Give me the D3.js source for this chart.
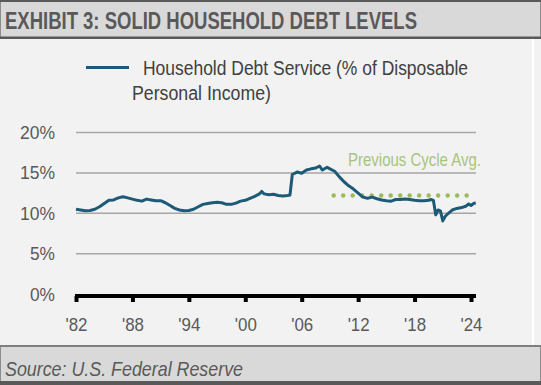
<!DOCTYPE html>
<html>
<head>
<meta charset="utf-8">
<script src="https://cdn.jsdelivr.net/npm/d3@7"></script>
<style>
  body { margin: 0; background: #fff; }
  svg { display: block; }
  text { font-family: "Liberation Sans Narrow", "Arial Narrow", "Liberation Sans", sans-serif; }
</style>
</head>
<body>
<div id="chart"></div>
<script>
// debt service ratio (decimal year, % of income)
const years = [1982, 1982.5, 1983, 1983.5, 1984, 1984.5, 1985, 1985.5, 1986, 1986.5,
  1987, 1987.5, 1988, 1988.5, 1989, 1989.5, 1990, 1990.5, 1991, 1991.5,
  1992, 1992.5, 1993, 1993.5, 1994, 1994.5, 1995, 1995.5, 1996, 1996.5,
  1997, 1997.5, 1998, 1998.5, 1999, 1999.5, 2000, 2000.5, 2001, 2001.5,
  2001.75, 2002, 2002.5, 2003, 2003.5, 2004, 2004.5, 2004.75, 2005, 2005.5,
  2006, 2006.5, 2007, 2007.5, 2007.9, 2008.2, 2008.7, 2009, 2009.5, 2010,
  2010.5, 2011, 2011.5, 2012, 2012.5, 2013, 2013.5, 2014, 2014.5, 2015,
  2015.5, 2016, 2016.5, 2017, 2017.5, 2018, 2018.5, 2019, 2019.5, 2019.75,
  2020, 2020.25, 2020.5, 2020.75, 2021, 2021.25, 2021.5, 2022, 2022.5, 2023,
  2023.5, 2023.75, 2024, 2024.25, 2024.5]
const debtService = [10.5, 10.4, 10.3, 10.35, 10.5, 10.8, 11.2, 11.6, 11.65, 11.9,
  12.05, 11.9, 11.75, 11.6, 11.5, 11.75, 11.65, 11.55, 11.55, 11.3,
  10.95, 10.6, 10.4, 10.3, 10.35, 10.5, 10.8, 11.1, 11.2, 11.3,
  11.35, 11.3, 11.1, 11.1, 11.25, 11.5, 11.6, 11.85, 12.1, 12.4,
  12.7, 12.4, 12.3, 12.35, 12.2, 12.15, 12.2, 12.25, 14.8, 15.1,
  14.95, 15.35, 15.5, 15.6, 15.85, 15.35, 15.7, 15.5, 15.2, 14.5,
  13.9, 13.4, 13.0, 12.5, 12.0, 11.85, 12.0, 11.8, 11.65, 11.55,
  11.5, 11.7, 11.7, 11.75, 11.7, 11.6, 11.55, 11.55, 11.6, 11.7,
  11.6, 9.8, 10.4, 10.3, 9.05, 9.6, 9.9, 10.4, 10.6, 10.7,
  10.9, 11.15, 10.95, 11.2, 11.3]

const cycleAvg = 12.2
const cycleSpan = [2009.4, 2023.8]
const yTicks = [0, 5, 10, 15, 20]
const xTicks = [1982, 1988, 1994, 2000, 2006, 2012, 2018, 2024]

const width = 541, height = 385
const lineColor = "#1d5a78"
const green = "#9bbb59"
const grey = "#595959"

const svg = d3.select("#chart").append("svg")
    .attr("width", width)
    .attr("height", height)

// squeeze a text to a given width (the original uses a condensed face)
function narrow(sel, w) {
  return sel.attr("textLength", w).attr("lengthAdjust", "spacingAndGlyphs")
}

// plot panel
svg.append("rect").attr("x", 0).attr("y", 0).attr("width", width).attr("height", height).attr("fill", "#f2f2f2")
svg.append("rect").attr("x", 532).attr("y", 39).attr("width", 2).attr("height", 307).attr("fill", "#fff")

// title band
svg.append("rect").attr("x", 0.5).attr("y", 1).attr("width", width - 1).attr("height", 37)
    .attr("fill", "#d9d9d9").attr("stroke", "#8c8c8c").attr("stroke-width", 1)
svg.append("rect").attr("x", 0).attr("y", 0).attr("width", width).attr("height", 2).attr("fill", grey)
svg.append("rect").attr("x", 0).attr("y", 36.5).attr("width", width).attr("height", 2.5).attr("fill", grey)
svg.append("text")
    .text("EXHIBIT 3: SOLID HOUSEHOLD DEBT LEVELS")
    .attr("x", 5).attr("y", 28.5)
    .attr("font-size", 24).attr("font-weight", "bold")
    .attr("fill", grey)
    .call(narrow, 412)

// footer band
svg.append("rect").attr("x", 0.5).attr("y", 345.5).attr("width", width - 1).attr("height", 37)
    .attr("fill", "#d9d9d9").attr("stroke", "#8c8c8c").attr("stroke-width", 1)
svg.append("rect").attr("x", 0).attr("y", 345).attr("width", width).attr("height", 2).attr("fill", "#7f7f7f")
svg.append("rect").attr("x", 0).attr("y", 381).attr("width", width).attr("height", 4).attr("fill", grey)
svg.append("text")
    .text("Source: U.S. Federal Reserve")
    .attr("x", 5).attr("y", 375.5)
    .attr("font-size", 21).attr("font-style", "italic")
    .attr("fill", grey)
    .call(narrow, 238)

// scales
const x = d3.scaleLinear().domain([1982, 2024]).range([76, 471])
const y = d3.scaleLinear().domain([0, 20]).range([294, 132.5])

// grid
svg.append("g")
  .selectAll("line")
  .data(yTicks.filter(d => d > 0))
  .join("line")
    .attr("x1", 76).attr("x2", 476)
    .attr("y1", d => y(d)).attr("y2", d => y(d))
    .attr("stroke", "#a6a6a6").attr("stroke-width", 1.5)

// y labels
const yAxis = d3.axisLeft(y).tickValues(yTicks).tickFormat(d => d + "%").tickSize(0).tickPadding(0)
const yg = svg.append("g").attr("transform", "translate(55,0)").call(yAxis)
yg.select(".domain").remove()
yg.selectAll("text").attr("font-size", 19).attr("fill", grey).attr("font-family", null)
    .each(function(d) { d3.select(this).call(narrow, d >= 10 ? 35 : 25) })

// x axis
const xAxis = d3.axisBottom(x).tickValues(xTicks)
    .tickFormat(d => "'" + String(d).slice(2))
    .tickSize(6).tickPadding(16)
const xg = svg.append("g").attr("transform", "translate(0,296)").call(xAxis)
xg.select(".domain")
    .attr("d", "M75,0H476")
    .attr("stroke", "#000").attr("stroke-width", 4)
xg.selectAll(".tick line").attr("stroke", "#000").attr("stroke-width", 4)
xg.selectAll("text").attr("font-size", 19).attr("fill", grey).attr("font-family", null)
    .call(narrow, 22)

// previous cycle average
const dots = d3.range(cycleSpan[0], cycleSpan[1] + 0.01, 1.01)
svg.append("g")
  .selectAll("circle")
  .data(dots)
  .join("circle")
    .attr("cx", d => x(d)).attr("cy", y(cycleAvg))
    .attr("r", 2.2).attr("fill", green)
svg.append("text")
    .text("Previous Cycle Avg.")
    .attr("x", 348).attr("y", 166)
    .attr("font-size", 19).attr("fill", "#a8c47c")
    .call(narrow, 133)

// series
const data = years.map((t, i) => ({ t: t, v: debtService[i] }))
svg.append("path")
    .datum(data)
    .attr("d", d3.line().x(d => x(d.t)).y(d => y(d.v)))
    .attr("fill", "none")
    .attr("stroke", lineColor)
    .attr("stroke-width", 3)
    .attr("stroke-linejoin", "round")

// legend
svg.append("line")
    .attr("x1", 86).attr("x2", 129).attr("y1", 67.5).attr("y2", 67.5)
    .attr("stroke", lineColor).attr("stroke-width", 3)
svg.append("text")
    .text("Household Debt Service (% of Disposable")
    .attr("x", 143).attr("y", 74.5)
    .attr("font-size", 20).attr("fill", "#404040")
    .call(narrow, 325)
svg.append("text")
    .text("Personal Income)")
    .attr("x", 132).attr("y", 100)
    .attr("font-size", 20).attr("fill", "#404040")
    .call(narrow, 139)
</script>
</body>
</html>
